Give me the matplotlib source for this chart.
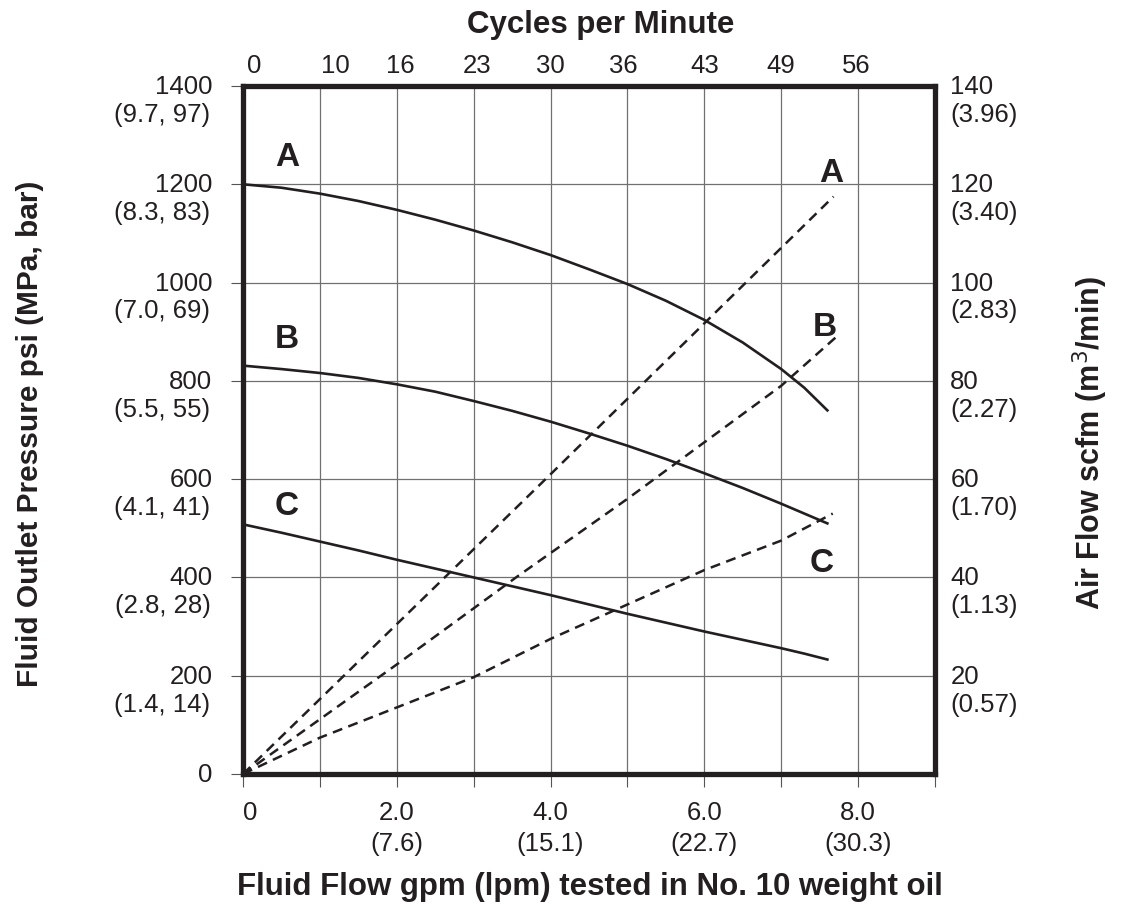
import matplotlib
matplotlib.use("Agg")
import matplotlib.pyplot as plt

plt.rcParams['font.family'] = ['Liberation Sans', 'DejaVu Sans']

# fluid flow (gpm) vs outlet pressure (psi), solid curves
flow_pts = [0, 0.5, 1, 1.5, 2, 2.5, 3, 3.5, 4, 4.5, 5, 5.5, 6, 6.5, 7, 7.3, 7.6]
press_a = [1200, 1193, 1181, 1166, 1148, 1128, 1106, 1082, 1056, 1027, 997,
           963, 924, 878, 824, 786, 740]
press_b = [831, 824, 816, 806, 793, 778, 759, 739, 717, 693, 668,
           641, 612, 582, 550, 530, 510]
press_c = [508, 491, 473, 455, 436, 418, 400, 382, 364, 345, 326,
           308, 290, 273, 256, 245, 233]

# air consumption (scfm), dashed curves
air_flow_a = [0, 4, 7.68]
air_a = [0, 61, 117.5]
air_flow_b = [0, 2, 3.55, 5, 6, 7, 7.72]
air_b = [0, 22.3, 40, 56, 67.5, 79, 89]
air_flow_c = [0, 1, 3, 4, 5, 6, 7, 7.67]
air_c = [0, 7.4, 19.7, 27.5, 34.5, 41.5, 47.5, 53]

# axis labels
gpm_ticks = [0, 2, 4, 6, 8]
gpm_main = ['0', '2.0', '4.0', '6.0', '8.0']
gpm_sub = ['', '(7.6)', '(15.1)', '(22.7)', '(30.3)']
cpm_pos = [0.15, 1.2, 2.05, 3.05, 4, 4.95, 6, 7, 7.98]
cpm_labels = ['0', '10', '16', '23', '30', '36', '43', '49', '56']
psi_ticks = [0, 200, 400, 600, 800, 1000, 1200, 1400]
psi_sub = ['', '(1.4, 14)', '(2.8, 28)', '(4.1, 41)', '(5.5, 55)',
           '(7.0, 69)', '(8.3, 83)', '(9.7, 97)']
scfm_ticks = [20, 40, 60, 80, 100, 120, 140]
scfm_sub = ['(0.57)', '(1.13)', '(1.70)', '(2.27)', '(2.83)', '(3.40)', '(3.96)']

INK = '#231f20'
TICK_FS = 18.5

fig = plt.figure(figsize=(11.31, 9.12), dpi=100)
ax = fig.add_axes([0.2149, 0.1502, 0.6118, 0.7544])
ax.set_xlim(0, 9)
ax.set_ylim(0, 1400)

# grid
ax.set_xticks(range(0, 10))
ax.set_yticks(psi_ticks)
ax.grid(True, color='#707070', linewidth=0.9)
ax.set_axisbelow(True)
for s in ax.spines.values():
    s.set_linewidth(3.8)
    s.set_color(INK)

ax.tick_params(axis='x', direction='out', length=9, width=0.8, color='#555555',
               labelbottom=False)
ax.tick_params(axis='y', direction='out', length=9, width=0.8, color='#555555',
               labelleft=False)

# solid pressure curves
for p in (press_a, press_b, press_c):
    ax.plot(flow_pts, p, color=INK, linewidth=1.9, solid_joinstyle='round')

# dashed air curves on scfm axis
ax2 = ax.twinx()
ax2.set_ylim(0, 140)
ax2.set_yticks(scfm_ticks)
ax2.tick_params(axis='y', length=0, labelright=False)
for s in ax2.spines.values():
    s.set_visible(False)
for fx, fy in ((air_flow_a, air_a), (air_flow_b, air_b), (air_flow_c, air_c)):
    ax2.plot(fx, fy, color=INK, linewidth=1.8, dashes=(4, 2.6),
             marker='o', markersize=5, markevery=[0])

ytr = ax.get_yaxis_transform()
xtr = ax.get_xaxis_transform()


def label(text, xy, trans, off, ha):
    ax.annotate(text, xy=xy, xycoords=trans, xytext=off,
                textcoords='offset points', ha=ha, va='center',
                fontsize=TICK_FS, color=INK, annotation_clip=False)


# left labels
for v, sub in zip(psi_ticks, psi_sub):
    label(str(v), (0, v), ytr, (-22, 0), 'right')
    if sub:
        label(sub, (0, v), ytr, (-23.5, -20), 'right')

# right labels
for v, sub in zip(scfm_ticks, scfm_sub):
    label(str(v), (1, v * 10), ytr, (11, 0), 'left')
    label(sub, (1, v * 10), ytr, (11, -20), 'left')

# bottom labels
for v, m, sub in zip(gpm_ticks, gpm_main, gpm_sub):
    label(m, (v, 0), xtr, (5 if v == 0 else 0, -27), 'center')
    if sub:
        label(sub, (v, 0), xtr, (0, -50), 'center')

# top labels (cycles per minute)
for v, lab in zip(cpm_pos, cpm_labels):
    label(lab, (v, 1), xtr, (0, 15), 'center')

# curve letters
letter_kw = dict(fontsize=24, fontweight='bold', color=INK,
                 ha='center', va='center')
ax.text(0.58, 1257, 'A', **letter_kw)
ax.text(0.57, 887, 'B', **letter_kw)
ax.text(0.57, 547, 'C', **letter_kw)
ax.text(7.65, 1225, 'A', **letter_kw)
ax.text(7.57, 911, 'B', **letter_kw)
ax.text(7.52, 431, 'C', **letter_kw)

# axis titles
fig.text(0.531, 0.973, 'Cycles per Minute', fontsize=22.5, fontweight='bold',
         ha='center', va='center', color=INK)
fig.text(0.5217, 0.027, 'Fluid Flow gpm (lpm) tested in No. 10 weight oil',
         fontsize=22.5, fontweight='bold', ha='center', va='center', color=INK)
fig.text(0.0265, 0.524, 'Fluid Outlet Pressure psi (MPa, bar)', fontsize=21.5,
         fontweight='bold', rotation=90, ha='center', va='center', color=INK)
fig.text(0.964, 0.514, 'Air Flow scfm (m$^3$/min)', fontsize=22,
         fontweight='bold', rotation=90, ha='center', va='center', color=INK)

fig.savefig('out.png', dpi=100)
